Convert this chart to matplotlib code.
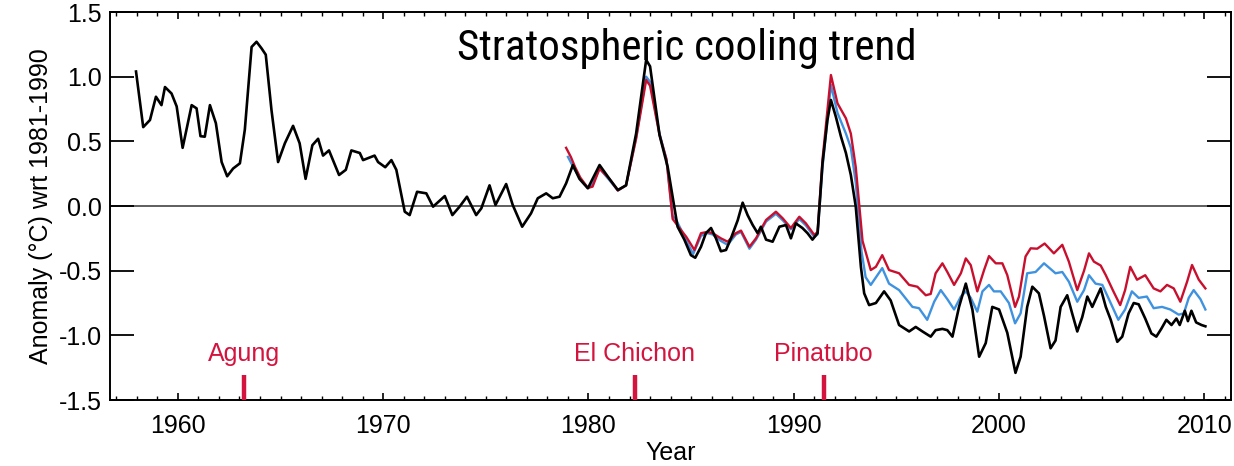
import os
import matplotlib
matplotlib.use("Agg")
import matplotlib.pyplot as plt
from matplotlib import font_manager
from matplotlib.ticker import MultipleLocator

# ---- data -----------------------------------------------------------------
# Observed lower-stratosphere anomaly (black), 1958-2010
obs_years = [
    1957.96, 1958.31, 1958.64, 1958.93, 1959.20, 1959.37, 1959.69, 1959.94,
    1960.23, 1960.67, 1960.91, 1961.10, 1961.31, 1961.56, 1961.85, 1962.13,
    1962.40, 1962.69, 1963.02, 1963.26, 1963.59, 1963.83, 1964.07, 1964.28,
    1964.56, 1964.88, 1965.21, 1965.61, 1965.93, 1966.22, 1966.55, 1966.83,
    1967.07, 1967.36, 1967.85, 1968.18, 1968.45, 1968.86, 1969.02, 1969.58,
    1969.75, 1970.10, 1970.40, 1970.64, 1971.05, 1971.29, 1971.65, 1972.10,
    1972.43, 1973.00, 1973.37, 1973.72, 1974.08, 1974.53, 1974.78, 1975.18,
    1975.47, 1975.99, 1976.31, 1976.77, 1977.20, 1977.53, 1977.94, 1978.26,
    1978.59, 1978.91, 1979.24, 1979.56, 1979.97, 1980.54, 1981.02, 1981.43,
    1981.83, 1982.32, 1982.81, 1983.00, 1983.46, 1983.86, 1984.18, 1984.34,
    1984.67, 1984.99, 1985.20, 1985.48, 1985.72, 1985.97, 1986.21, 1986.45,
    1986.70, 1986.94, 1987.27, 1987.51, 1987.75, 1988.00, 1988.24, 1988.40,
    1988.65, 1988.97, 1989.30, 1989.62, 1989.86, 1990.10, 1990.42, 1990.67,
    1990.91, 1991.16, 1991.40, 1991.64, 1991.81, 1992.05, 1992.30, 1992.54,
    1992.78, 1993.02, 1993.27, 1993.43, 1993.67, 1994.00, 1994.40, 1994.72,
    1995.13, 1995.62, 1995.94, 1996.27, 1996.67, 1996.91, 1997.24, 1997.48,
    1997.73, 1998.05, 1998.38, 1998.70, 1999.03, 1999.35, 1999.67, 2000.00,
    2000.40, 2000.80, 2001.05, 2001.37, 2001.62, 2001.94, 2002.19, 2002.51,
    2002.75, 2003.00, 2003.32, 2003.56, 2003.81, 2004.05, 2004.30, 2004.54,
    2004.95, 2005.20, 2005.44, 2005.76, 2006.00, 2006.31, 2006.56, 2006.80,
    2007.12, 2007.42, 2007.66, 2007.90, 2008.15, 2008.40, 2008.64, 2008.80,
    2009.05, 2009.20, 2009.37, 2009.60, 2009.86, 2010.05,
]
obs_anom = [
    1.04, 0.61, 0.665, 0.845, 0.78, 0.92, 0.87, 0.77,
    0.45, 0.78, 0.755, 0.54, 0.536, 0.78, 0.64, 0.34,
    0.23, 0.29, 0.33, 0.59, 1.23, 1.27, 1.22, 1.17,
    0.74, 0.34, 0.485, 0.62, 0.485, 0.21, 0.47, 0.52,
    0.39, 0.43, 0.24, 0.28, 0.43, 0.41, 0.355, 0.39,
    0.34, 0.30, 0.355, 0.28, -0.044, -0.07, 0.11, 0.098,
    -0.005, 0.077, -0.07, -0.005, 0.072, -0.07, -0.018, 0.16,
    0.008, 0.17, 0.008, -0.16, -0.057, 0.06, 0.098, 0.06,
    0.072, 0.175, 0.317, 0.21, 0.137, 0.317, 0.21, 0.124,
    0.16, 0.56, 1.13, 1.08, 0.55, 0.30, -0.005, -0.16,
    -0.26, -0.38, -0.40, -0.315, -0.21, -0.17, -0.25, -0.35,
    -0.34, -0.25, -0.11, 0.026, -0.07, -0.147, -0.21, -0.16,
    -0.26, -0.276, -0.16, -0.147, -0.25, -0.134, -0.17, -0.21,
    -0.26, -0.21, 0.33, 0.665, 0.82, 0.69, 0.536, 0.41,
    0.24, -0.005, -0.47, -0.675, -0.766, -0.75, -0.66, -0.73,
    -0.92, -0.97, -0.935, -0.97, -1.01, -0.96, -0.95, -0.96,
    -1.01, -0.78, -0.60, -0.80, -1.165, -1.06, -0.78, -0.80,
    -0.98, -1.29, -1.165, -0.78, -0.624, -0.675, -0.85, -1.10,
    -1.04, -0.78, -0.69, -0.83, -0.97, -0.86, -0.70, -0.78,
    -0.637, -0.78, -0.88, -1.05, -1.01, -0.83, -0.75, -0.76,
    -0.87, -0.985, -1.01, -0.95, -0.88, -0.92, -0.87, -0.92,
    -0.81, -0.89, -0.81, -0.90, -0.92, -0.93,
]

# Satellite-era series (red)
red_years = [
    1978.91, 1979.14, 1979.35, 1979.60, 1979.97, 1980.20, 1980.54, 1981.02,
    1981.43, 1981.83, 1982.32, 1982.81, 1983.00, 1983.46, 1983.80, 1984.10,
    1984.43, 1984.77, 1985.16, 1985.48, 1985.80, 1986.05, 1986.45, 1986.78,
    1987.18, 1987.43, 1987.84, 1988.16, 1988.65, 1989.13, 1989.46, 1989.86,
    1990.27, 1990.59, 1991.00, 1991.16, 1991.40, 1991.81, 1992.13, 1992.54,
    1992.78, 1993.02, 1993.35, 1993.75, 1994.00, 1994.31, 1994.64, 1995.13,
    1995.62, 1996.02, 1996.43, 1996.67, 1996.91, 1997.24, 1997.48, 1997.81,
    1998.14, 1998.38, 1998.62, 1998.94, 1999.27, 1999.51, 1999.84, 2000.16,
    2000.40, 2000.78, 2000.97, 2001.29, 2001.54, 2001.86, 2002.22, 2002.67,
    2003.08, 2003.40, 2003.81, 2004.14, 2004.38, 2004.62, 2004.95, 2005.20,
    2005.57, 2005.90, 2006.14, 2006.39, 2006.72, 2007.12, 2007.53, 2007.86,
    2008.18, 2008.51, 2008.83, 2009.16, 2009.40, 2009.73, 2010.05,
]
red_anom = [
    0.45, 0.38, 0.30, 0.22, 0.14, 0.15, 0.29, 0.21,
    0.12, 0.16, 0.52, 0.975, 0.93, 0.55, 0.36, -0.10,
    -0.17, -0.24, -0.34, -0.21, -0.20, -0.21, -0.25, -0.276,
    -0.21, -0.19, -0.315, -0.25, -0.108, -0.044, -0.095, -0.17,
    -0.083, -0.134, -0.224, -0.20, 0.36, 1.013, 0.794, 0.678,
    0.56, 0.30, -0.27, -0.495, -0.47, -0.38, -0.495, -0.52,
    -0.61, -0.624, -0.69, -0.68, -0.52, -0.443, -0.51, -0.61,
    -0.52, -0.405, -0.457, -0.66, -0.495, -0.387, -0.443, -0.443,
    -0.534, -0.78, -0.70, -0.39, -0.327, -0.33, -0.29, -0.366,
    -0.30, -0.43, -0.65, -0.50, -0.366, -0.43, -0.46, -0.535,
    -0.66, -0.766, -0.65, -0.47, -0.57, -0.535, -0.637, -0.66,
    -0.61, -0.637, -0.74, -0.585, -0.456, -0.57, -0.637,
]

# Satellite-era series (blue)
blue_years = [
    1979.00, 1979.30, 1979.60, 1979.97, 1980.20, 1980.54, 1981.02, 1981.43,
    1981.83, 1982.32, 1982.81, 1983.00, 1983.46, 1983.80, 1984.10, 1984.25,
    1984.50, 1984.77, 1985.10, 1985.48, 1985.80, 1986.05, 1986.45, 1986.78,
    1987.18, 1987.43, 1987.84, 1988.16, 1988.65, 1989.13, 1989.46, 1989.86,
    1990.27, 1990.59, 1991.00, 1991.16, 1991.40, 1991.81, 1992.13, 1992.54,
    1992.78, 1993.02, 1993.30, 1993.50, 1993.75, 1994.31, 1994.64, 1995.13,
    1995.78, 1996.10, 1996.50, 1996.84, 1997.16, 1997.48, 1997.81, 1998.14,
    1998.38, 1998.62, 1998.94, 1999.19, 1999.51, 1999.75, 2000.08, 2000.48,
    2000.78, 2001.05, 2001.37, 2001.78, 2002.19, 2002.75, 2003.08, 2003.40,
    2003.81, 2004.14, 2004.38, 2004.70, 2005.03, 2005.35, 2005.81, 2006.14,
    2006.47, 2006.80, 2007.20, 2007.53, 2007.94, 2008.34, 2008.75, 2009.00,
    2009.24, 2009.48, 2009.81, 2010.05,
]
blue_anom = [
    0.38, 0.29, 0.21, 0.14, 0.17, 0.29, 0.20, 0.12,
    0.16, 0.53, 1.00, 0.96, 0.56, 0.36, -0.08, -0.10,
    -0.18, -0.27, -0.37, -0.23, -0.21, -0.22, -0.27, -0.30,
    -0.22, -0.20, -0.33, -0.26, -0.12, -0.06, -0.11, -0.18,
    -0.10, -0.15, -0.24, -0.22, 0.30, 0.936, 0.72, 0.56,
    0.45, 0.18, -0.35, -0.55, -0.61, -0.48, -0.60, -0.65,
    -0.78, -0.79, -0.88, -0.74, -0.65, -0.72, -0.80, -0.70,
    -0.66, -0.71, -0.817, -0.66, -0.61, -0.66, -0.66, -0.75,
    -0.907, -0.83, -0.52, -0.51, -0.443, -0.52, -0.51, -0.585,
    -0.74, -0.65, -0.535, -0.60, -0.61, -0.72, -0.88, -0.80,
    -0.66, -0.71, -0.70, -0.79, -0.78, -0.80, -0.84, -0.83,
    -0.71, -0.65, -0.72, -0.80,
]

# Major volcanic eruptions
volcano_names = ["Agung", "El Chichon", "Pinatubo"]
volcano_years = [1963.2, 1982.25, 1991.45]

x_ticks = [1960, 1970, 1980, 1990, 2000, 2010]
y_ticks = [-1.5, -1.0, -0.5, 0.0, 0.5, 1.0, 1.5]

# ---- fonts ----------------------------------------------------------------
available = {f.name for f in font_manager.fontManager.ttflist}
sans = "Liberation Sans" if "Liberation Sans" in available else "DejaVu Sans"
plt.rcParams["font.family"] = [sans, "DejaVu Sans"]


def find_condensed():
    """Return FontProperties for an upright, regular condensed face if any."""
    preferred = ["Liberation Sans Narrow", "Roboto Condensed", "Open Sans Condensed",
                 "Noto Sans Condensed", "DejaVu Sans Condensed", "Noto Sans",
                 "Roboto", "Open Sans", "DejaVu Sans"]
    hits = []
    for f in font_manager.fontManager.ttflist:
        base = os.path.basename(f.fname)
        low = base.lower()
        if not ("condensed" in low or "narrow" in low or
                f.stretch in ("condensed", "semi-condensed", "extra-condensed")):
            continue
        if any(k in low for k in ("bold", "italic", "oblique", "black",
                                  "semibold", "medium", "extra", "thin")):
            continue
        if f.style != "normal":
            continue
        hits.append(f)

    def rank(f):
        for i, name in enumerate(preferred):
            if f.name == name or os.path.basename(f.fname).lower().startswith(
                    name.replace(" ", "").lower()):
                return i
        return len(preferred)

    if hits:
        hits.sort(key=rank)
        return font_manager.FontProperties(fname=hits[0].fname), True
    return font_manager.FontProperties(family=sans), False


title_font, is_condensed = find_condensed()

# ---- plot -----------------------------------------------------------------
RED = "#c8102e"
BLUE = "#3f92df"
VOLC = "#d4143f"

fig = plt.figure(figsize=(12.34, 4.66), dpi=100)
ax = fig.add_axes([0.0891, 0.1416, 0.9085, 0.8326])

ax.axhline(0.0, color="#333333", lw=1.1, zorder=1)

ax.plot(blue_years, blue_anom, color=BLUE, lw=1.7, zorder=2)
ax.plot(red_years, red_anom, color=RED, lw=1.7, zorder=3)
ax.plot(obs_years, obs_anom, color="black", lw=1.9, zorder=4)

ax.set_xlim(1956.69, 2011.3)
ax.set_ylim(-1.5, 1.5)

ax.set_xticks(x_ticks)
ax.xaxis.set_minor_locator(MultipleLocator(1))
ax.set_yticks(y_ticks)
ax.set_yticklabels([f"{v:.1f}" for v in y_ticks])

ax.tick_params(axis="y", which="major", direction="in", length=17, width=1.3,
               left=True, right=True, labelsize=18, pad=6)
ax.tick_params(axis="x", which="major", direction="in", length=5, width=1.2,
               top=True, bottom=True, labelsize=18, pad=10)
ax.tick_params(axis="x", which="minor", direction="in", length=3, width=1.0,
               top=True, bottom=True)

for side in ax.spines.values():
    side.set_linewidth(1.4)

ax.set_xlabel("Year", fontsize=18, labelpad=2)
ax.set_ylabel("Anomaly (\u00b0C) wrt 1981-1990", fontsize=18, labelpad=4)

title_font.set_size(31 if is_condensed else 27)
ax.text(0.515, 0.876, "Stratospheric cooling trend", transform=ax.transAxes,
        ha="center", va="baseline", fontproperties=title_font)

# Eruption markers along the bottom axis
for name, yr in zip(volcano_names, volcano_years):
    ax.plot([yr, yr], [-1.5, -1.31], color=VOLC, lw=3.2, solid_capstyle="butt",
            zorder=5, clip_on=False)
    ax.text(yr, -1.2, name, color=VOLC, ha="center", va="baseline", fontsize=18)

fig.savefig("out.png", dpi=100)
